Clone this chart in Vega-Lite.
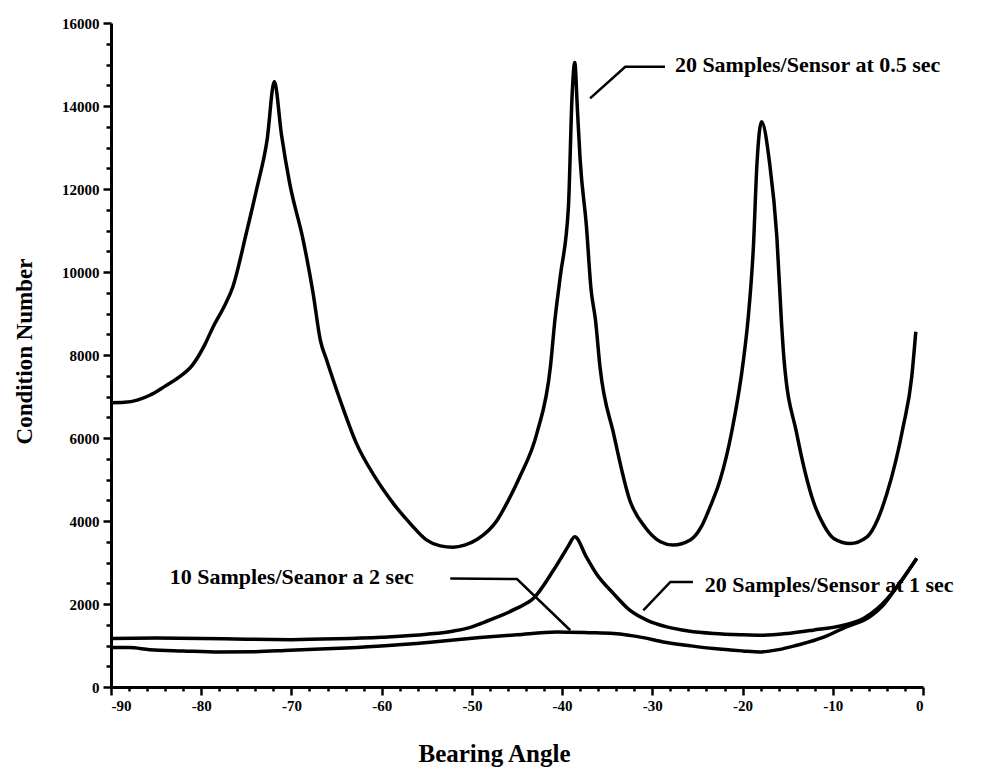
{
  "$schema": "https://vega.github.io/schema/vega-lite/v6.json",
  "width": 812,
  "height": 664,
  "autosize": "none",
  "padding": {"left": 111, "top": 23, "right": 66, "bottom": 81},
  "background": "white",
  "datasets": {
    "curves": [
      {"angle": -90, "cond": 6850, "series": "0.5 sec"},
      {"angle": -88.5, "cond": 6860, "series": "0.5 sec"},
      {"angle": -87, "cond": 6920, "series": "0.5 sec"},
      {"angle": -85.7, "cond": 7030, "series": "0.5 sec"},
      {"angle": -84, "cond": 7250, "series": "0.5 sec"},
      {"angle": -82.5, "cond": 7460, "series": "0.5 sec"},
      {"angle": -81, "cond": 7750, "series": "0.5 sec"},
      {"angle": -79.6, "cond": 8250, "series": "0.5 sec"},
      {"angle": -78.7, "cond": 8670, "series": "0.5 sec"},
      {"angle": -77.5, "cond": 9150, "series": "0.5 sec"},
      {"angle": -76.5, "cond": 9640, "series": "0.5 sec"},
      {"angle": -75, "cond": 10940, "series": "0.5 sec"},
      {"angle": -73.8, "cond": 12050, "series": "0.5 sec"},
      {"angle": -72.7, "cond": 13180, "series": "0.5 sec"},
      {"angle": -71.9, "cond": 14590, "series": "0.5 sec"},
      {"angle": -71.1, "cond": 13300, "series": "0.5 sec"},
      {"angle": -70.2, "cond": 12140, "series": "0.5 sec"},
      {"angle": -68.7, "cond": 10770, "series": "0.5 sec"},
      {"angle": -67.6, "cond": 9490, "series": "0.5 sec"},
      {"angle": -66.8, "cond": 8360, "series": "0.5 sec"},
      {"angle": -66.1, "cond": 7880, "series": "0.5 sec"},
      {"angle": -64.5, "cond": 6850, "series": "0.5 sec"},
      {"angle": -62.8, "cond": 5870, "series": "0.5 sec"},
      {"angle": -60.8, "cond": 5080, "series": "0.5 sec"},
      {"angle": -58.7, "cond": 4420, "series": "0.5 sec"},
      {"angle": -56.8, "cond": 3930, "series": "0.5 sec"},
      {"angle": -55, "cond": 3540, "series": "0.5 sec"},
      {"angle": -53.5, "cond": 3400, "series": "0.5 sec"},
      {"angle": -52.1, "cond": 3370, "series": "0.5 sec"},
      {"angle": -50.8, "cond": 3420, "series": "0.5 sec"},
      {"angle": -49.4, "cond": 3560, "series": "0.5 sec"},
      {"angle": -47.2, "cond": 4020, "series": "0.5 sec"},
      {"angle": -46, "cond": 4480, "series": "0.5 sec"},
      {"angle": -44.7, "cond": 5060, "series": "0.5 sec"},
      {"angle": -42.8, "cond": 6110, "series": "0.5 sec"},
      {"angle": -41.3, "cond": 7710, "series": "0.5 sec"},
      {"angle": -40.8, "cond": 8840, "series": "0.5 sec"},
      {"angle": -40.2, "cond": 9900, "series": "0.5 sec"},
      {"angle": -39.3, "cond": 11570, "series": "0.5 sec"},
      {"angle": -38.9, "cond": 14220, "series": "0.5 sec"},
      {"angle": -38.6, "cond": 15050, "series": "0.5 sec"},
      {"angle": -38.3, "cond": 13900, "series": "0.5 sec"},
      {"angle": -38, "cond": 12700, "series": "0.5 sec"},
      {"angle": -37.3, "cond": 11090, "series": "0.5 sec"},
      {"angle": -36.8, "cond": 9600, "series": "0.5 sec"},
      {"angle": -36.3, "cond": 8840, "series": "0.5 sec"},
      {"angle": -35.8, "cond": 7710, "series": "0.5 sec"},
      {"angle": -34.3, "cond": 6110, "series": "0.5 sec"},
      {"angle": -32.5, "cond": 4500, "series": "0.5 sec"},
      {"angle": -30.8, "cond": 3850, "series": "0.5 sec"},
      {"angle": -29.1, "cond": 3500, "series": "0.5 sec"},
      {"angle": -27.7, "cond": 3420, "series": "0.5 sec"},
      {"angle": -25.8, "cond": 3540, "series": "0.5 sec"},
      {"angle": -24.6, "cond": 3850, "series": "0.5 sec"},
      {"angle": -23.6, "cond": 4340, "series": "0.5 sec"},
      {"angle": -22.5, "cond": 4980, "series": "0.5 sec"},
      {"angle": -21.2, "cond": 6150, "series": "0.5 sec"},
      {"angle": -19.9, "cond": 7880, "series": "0.5 sec"},
      {"angle": -19.4, "cond": 8840, "series": "0.5 sec"},
      {"angle": -18.8, "cond": 10600, "series": "0.5 sec"},
      {"angle": -18.4, "cond": 12620, "series": "0.5 sec"},
      {"angle": -17.9, "cond": 13620, "series": "0.5 sec"},
      {"angle": -17, "cond": 12620, "series": "0.5 sec"},
      {"angle": -16.2, "cond": 10850, "series": "0.5 sec"},
      {"angle": -15.7, "cond": 8840, "series": "0.5 sec"},
      {"angle": -15.4, "cond": 7880, "series": "0.5 sec"},
      {"angle": -14, "cond": 6110, "series": "0.5 sec"},
      {"angle": -12.2, "cond": 4500, "series": "0.5 sec"},
      {"angle": -11, "cond": 3900, "series": "0.5 sec"},
      {"angle": -9.9, "cond": 3580, "series": "0.5 sec"},
      {"angle": -8.1, "cond": 3460, "series": "0.5 sec"},
      {"angle": -6.2, "cond": 3620, "series": "0.5 sec"},
      {"angle": -5, "cond": 4050, "series": "0.5 sec"},
      {"angle": -4, "cond": 4660, "series": "0.5 sec"},
      {"angle": -2.2, "cond": 6270, "series": "0.5 sec"},
      {"angle": -1.25, "cond": 7470, "series": "0.5 sec"},
      {"angle": -0.8, "cond": 8560, "series": "0.5 sec"},

      {"angle": -90, "cond": 1170, "series": "1 sec"},
      {"angle": -85, "cond": 1180, "series": "1 sec"},
      {"angle": -80, "cond": 1170, "series": "1 sec"},
      {"angle": -75, "cond": 1150, "series": "1 sec"},
      {"angle": -70, "cond": 1140, "series": "1 sec"},
      {"angle": -65, "cond": 1160, "series": "1 sec"},
      {"angle": -60, "cond": 1200, "series": "1 sec"},
      {"angle": -55, "cond": 1270, "series": "1 sec"},
      {"angle": -52, "cond": 1350, "series": "1 sec"},
      {"angle": -50, "cond": 1450, "series": "1 sec"},
      {"angle": -49, "cond": 1530, "series": "1 sec"},
      {"angle": -47, "cond": 1700, "series": "1 sec"},
      {"angle": -45, "cond": 1900, "series": "1 sec"},
      {"angle": -43.2, "cond": 2130, "series": "1 sec"},
      {"angle": -41, "cond": 2800, "series": "1 sec"},
      {"angle": -40, "cond": 3150, "series": "1 sec"},
      {"angle": -39.3, "cond": 3400, "series": "1 sec"},
      {"angle": -38.6, "cond": 3620, "series": "1 sec"},
      {"angle": -37.3, "cond": 3130, "series": "1 sec"},
      {"angle": -36.2, "cond": 2730, "series": "1 sec"},
      {"angle": -34.3, "cond": 2250, "series": "1 sec"},
      {"angle": -32.5, "cond": 1850, "series": "1 sec"},
      {"angle": -30.5, "cond": 1600, "series": "1 sec"},
      {"angle": -28.4, "cond": 1450, "series": "1 sec"},
      {"angle": -26, "cond": 1350, "series": "1 sec"},
      {"angle": -23.2, "cond": 1290, "series": "1 sec"},
      {"angle": -20, "cond": 1260, "series": "1 sec"},
      {"angle": -17.7, "cond": 1250, "series": "1 sec"},
      {"angle": -15, "cond": 1290, "series": "1 sec"},
      {"angle": -12.2, "cond": 1370, "series": "1 sec"},
      {"angle": -9, "cond": 1480, "series": "1 sec"},
      {"angle": -6.6, "cond": 1650, "series": "1 sec"},
      {"angle": -5, "cond": 1900, "series": "1 sec"},
      {"angle": -2.9, "cond": 2410, "series": "1 sec"},
      {"angle": -0.7, "cond": 3100, "series": "1 sec"},

      {"angle": -90, "cond": 950, "series": "2 sec"},
      {"angle": -88, "cond": 950, "series": "2 sec"},
      {"angle": -85.7, "cond": 900, "series": "2 sec"},
      {"angle": -82, "cond": 870, "series": "2 sec"},
      {"angle": -78, "cond": 845, "series": "2 sec"},
      {"angle": -74, "cond": 850, "series": "2 sec"},
      {"angle": -70.2, "cond": 885, "series": "2 sec"},
      {"angle": -65.4, "cond": 925, "series": "2 sec"},
      {"angle": -60.5, "cond": 981, "series": "2 sec"},
      {"angle": -54.3, "cond": 1085, "series": "2 sec"},
      {"angle": -49.1, "cond": 1190, "series": "2 sec"},
      {"angle": -45, "cond": 1260, "series": "2 sec"},
      {"angle": -40.6, "cond": 1326, "series": "2 sec"},
      {"angle": -37, "cond": 1310, "series": "2 sec"},
      {"angle": -34.3, "cond": 1290, "series": "2 sec"},
      {"angle": -31, "cond": 1190, "series": "2 sec"},
      {"angle": -28.8, "cond": 1085, "series": "2 sec"},
      {"angle": -26, "cond": 1000, "series": "2 sec"},
      {"angle": -23.2, "cond": 925, "series": "2 sec"},
      {"angle": -20, "cond": 870, "series": "2 sec"},
      {"angle": -18.1, "cond": 845, "series": "2 sec"},
      {"angle": -16, "cond": 900, "series": "2 sec"},
      {"angle": -14, "cond": 1005, "series": "2 sec"},
      {"angle": -11, "cond": 1200, "series": "2 sec"},
      {"angle": -8.5, "cond": 1450, "series": "2 sec"},
      {"angle": -5.9, "cond": 1690, "series": "2 sec"},
      {"angle": -4.5, "cond": 1950, "series": "2 sec"},
      {"angle": -2.9, "cond": 2410, "series": "2 sec"},
      {"angle": -0.7, "cond": 3100, "series": "2 sec"}
    ],
    "labels": [
      {"angle": -27.5, "cond": 14990, "text": "20 Samples/Sensor at 0.5 sec"},
      {"angle": -83.5, "cond": 2650, "text": "10 Samples/Seanor a 2 sec"},
      {"angle": -24.2, "cond": 2450, "text": "20 Samples/Sensor at 1 sec"}
    ],
    "pointers": [
      {"angle": -36.9, "cond": 14185, "pointer": "a", "step": 1},
      {"angle": -33.0, "cond": 14947, "pointer": "a", "step": 2},
      {"angle": -28.6, "cond": 14947, "pointer": "a", "step": 3},
      {"angle": -52.4, "cond": 2613, "pointer": "b", "step": 1},
      {"angle": -45.0, "cond": 2600, "pointer": "b", "step": 2},
      {"angle": -39.1, "cond": 1367, "pointer": "b", "step": 3},
      {"angle": -31.0, "cond": 1849, "pointer": "c", "step": 1},
      {"angle": -28.0, "cond": 2531, "pointer": "c", "step": 2},
      {"angle": -25.5, "cond": 2531, "pointer": "c", "step": 3}
    ]
  },
  "encoding": {
    "x": {
      "field": "angle",
      "type": "quantitative",
      "scale": {"domain": [-90, 0], "nice": false},
      "axis": {
        "title": "Bearing Angle",
        "titleFontSize": 25,
        "titleX": 383,
        "titleY": 74,
        "titleBaseline": "alphabetic",
        "titleAlign": "center",
        "values": [-90, -88, -86, -84, -82, -80, -78, -76, -74, -72, -70, -68, -66, -64, -62, -60, -58, -56, -54, -52, -50, -48, -46, -44, -42, -40, -38, -36, -34, -32, -30, -28, -26, -24, -22, -20, -18, -16, -14, -12, -10, -8, -6, -4, -2, 0],
        "labelExpr": "datum.value % 10 == 0 ? '' + datum.value : ''",
        "labelOverlap": false,
        "labelFontSize": 15,
        "labelPadding": 3,
        "tickSize": {"condition": {"test": "datum.value % 10 == 0", "value": 8}, "value": 4}
      }
    },
    "y": {
      "field": "cond",
      "type": "quantitative",
      "scale": {"domain": [0, 16000], "nice": false},
      "axis": {
        "title": "Condition Number",
        "titleFontSize": 23,
        "titleX": -80,
        "titleY": 328,
        "titleAngle": -90,
        "titleBaseline": "alphabetic",
        "titleAlign": "center",
        "values": [0, 500, 1000, 1500, 2000, 2500, 3000, 3500, 4000, 4500, 5000, 5500, 6000, 6500, 7000, 7500, 8000, 8500, 9000, 9500, 10000, 10500, 11000, 11500, 12000, 12500, 13000, 13500, 14000, 14500, 15000, 15500, 16000],
        "labelExpr": "datum.value % 2000 == 0 ? '' + datum.value : ''",
        "labelOverlap": false,
        "labelFontSize": 15,
        "labelPadding": 4,
        "tickSize": {"condition": {"test": "datum.value % 2000 == 0", "value": 8}, "value": 5}
      }
    }
  },
  "layer": [
    {
      "description": "Condition number curves",
      "data": {"name": "curves"},
      "mark": {"type": "line", "color": "black", "strokeWidth": 3.5, "strokeJoin": "round", "interpolate": "monotone"},
      "encoding": {
        "detail": {"field": "series"}
      }
    },
    {
      "description": "Pointer lines",
      "data": {"name": "pointers"},
      "mark": {"type": "line", "color": "black", "strokeWidth": 2.5},
      "encoding": {
        "detail": {"field": "pointer"},
        "order": {"field": "step"}
      }
    },
    {
      "description": "Series labels",
      "data": {"name": "labels"},
      "mark": {
        "type": "text",
        "align": "left",
        "baseline": "middle",
        "font": "Liberation Serif",
        "fontWeight": "bold",
        "fontSize": 22,
        "color": "black"
      },
      "encoding": {
        "text": {"field": "text"}
      }
    }
  ],
  "config": {
    "view": {"stroke": null},
    "axis": {
      "grid": false,
      "domainColor": "black",
      "domainWidth": 3,
      "tickColor": "black",
      "tickWidth": 2.5,
      "labelColor": "black",
      "labelFont": "Liberation Serif",
      "labelFontWeight": "bold",
      "titleFont": "Liberation Serif",
      "titleFontWeight": "bold",
      "titleColor": "black"
    }
  }
}
